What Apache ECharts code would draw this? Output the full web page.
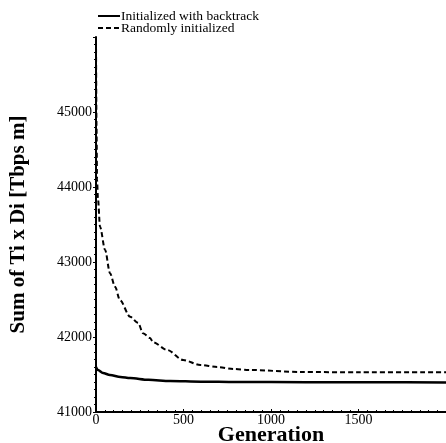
<!DOCTYPE html>
<html>
<head>
<meta charset="utf-8">
<script src="https://cdn.jsdelivr.net/npm/echarts@6/dist/echarts.min.js"></script>
<style>
  html, body { margin: 0; padding: 0; background: #fff; }
</style>
</head>
<body>
<div id="main" style="width: 446px;height:443px;"></div>
<script>
// generation vs. sum values
var backtrackGen = [0, 11, 40, 80, 140, 195, 300, 424, 600, 800, 1200, 1600, 2000]
var backtrackVal = [41600, 41560, 41520, 41493, 41468, 41453, 41430, 41413, 41405, 41400, 41398, 41396, 41395]
var randomGen = [0, 3, 6, 11, 23, 52, 80, 109, 137, 195, 240, 269, 309, 326, 407, 498, 596, 693, 785, 882, 1168, 1500, 2000]
var randomVal = [45950, 44800, 44100, 43850, 43470, 43160, 42850, 42670, 42490, 42270, 42190, 42050, 41987, 41930, 41827, 41693, 41627, 41600, 41573, 41560, 41533, 41530, 41530]

function pairs(xs, ys) {
  return xs.map(function (x, i) { return [x, ys[i]] })
}

var serif = 'Liberation Serif'
var myChart = echarts.init(document.getElementById('main'))
var option = {
  animation: false,
  grid: {
    left: 96,
    right: 0,
    top: 37,
    bottom: 31,
    containLabel: false,
    outerBoundsMode: 'none'
  },
  legend: {
    orient: 'vertical',
    left: 92,
    top: 4,
    itemGap: -2,
    itemWidth: 22,
    itemHeight: 10,
    itemStyle: { opacity: 0 },
    textStyle: {
      fontFamily: serif,
      fontSize: 13.5,
      color: '#000',
      padding: [0, 0, 0, -4]
    },
    data: ['Initialized with backtrack', 'Randomly initialized']
  },
  xAxis: {
    type: 'value',
    min: 0,
    max: 2000,
    interval: 500,
    name: 'Generation',
    nameLocation: 'middle',
    nameGap: 12,
    nameMoveOverlap: false,
    nameTextStyle: {
      fontFamily: serif,
      fontWeight: 'bold',
      fontSize: 22,
      color: '#000',
      verticalAlign: 'top'
    },
    axisLine: { lineStyle: { color: '#000', width: 2 } },
    axisTick: { inside: true, length: 3, lineStyle: { color: '#000' } },
    minorTick: { show: true, splitNumber: 10, length: 2, lineStyle: { color: '#000' } },
    splitLine: { show: false },
    axisLabel: {
      showMaxLabel: false,
      margin: 1,
      fontFamily: serif,
      fontSize: 14,
      color: '#000',
      formatter: function (v) { return String(v) }
    }
  },
  yAxis: {
    type: 'value',
    min: 41000,
    max: 46000,
    interval: 1000,
    name: 'Sum of Ti x Di [Tbps m]',
    nameLocation: 'middle',
    nameGap: 67,
    nameTextStyle: {
      fontFamily: serif,
      fontWeight: 'bold',
      fontSize: 21,
      color: '#000'
    },
    axisLine: { show: true, lineStyle: { color: '#000', width: 2 } },
    axisTick: { show: true, length: 3, lineStyle: { color: '#000' } },
    minorTick: { show: true, splitNumber: 10, length: 2, lineStyle: { color: '#000' } },
    splitLine: { show: false },
    axisLabel: {
      showMaxLabel: false,
      margin: 4,
      fontFamily: serif,
      fontSize: 14,
      color: '#000',
      formatter: function (v) { return String(v) }
    }
  },
  series: [
    {
      name: 'Initialized with backtrack',
      type: 'line',
      symbol: 'none',
      smooth: 0.3,
      smoothMonotone: 'x',
      lineStyle: { color: '#000', width: 2.5 },
      itemStyle: { color: '#000' },
      data: pairs(backtrackGen, backtrackVal)
    },
    {
      name: 'Randomly initialized',
      type: 'line',
      symbol: 'none',
      smooth: 0.3,
      smoothMonotone: 'x',
      lineStyle: { color: '#000', width: 2, type: [5, 3] },
      itemStyle: { color: '#000' },
      data: pairs(randomGen, randomVal)
    }
  ]
}
myChart.setOption(option)
</script>
</body>
</html>
